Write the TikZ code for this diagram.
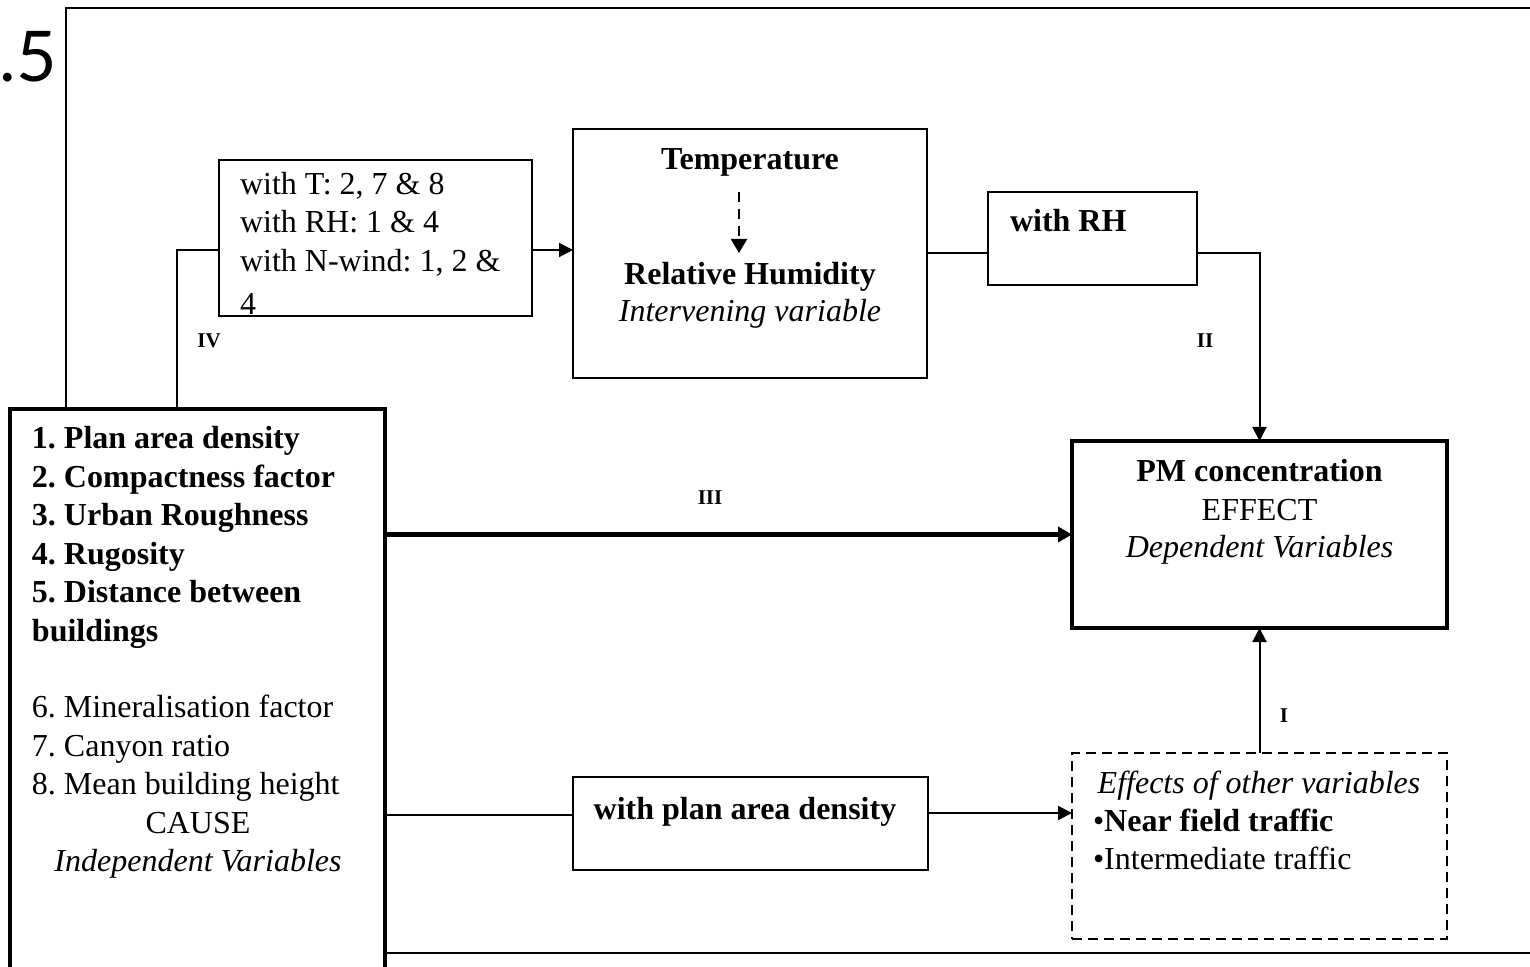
\documentclass[tikz,border=0pt]{standalone}
\usepackage{fontspec}
\setmainfont{Liberation Serif}
\newfontfamily\dotfont{Lato}
\usetikzlibrary{arrows.meta}
\frenchspacing
\begin{document}
\begin{tikzpicture}[x=0.5pt,y=-0.5pt,
  every node/.style={inner sep=0pt, outer sep=0pt},
  txt/.style={font=\fontsize{16}{19.2}\selectfont, anchor=base west},
  ctxt/.style={font=\fontsize{16}{19.2}\selectfont, anchor=base},
  btxt/.style={font=\fontsize{16}{19.2}\selectfont\bfseries},
  itxt/.style={font=\fontsize{16}{19.2}\selectfont\itshape},
  lbl/.style={font=\fontsize{10.5}{12}\selectfont\bfseries, anchor=base},
  box/.style={draw, line width=1.2pt, rectangle},
  thickbox/.style={draw, line width=1.8pt, rectangle},
  dbox/.style={draw, line width=1pt, rectangle, dash pattern=on 5pt off 3pt},
  conn/.style={line width=1pt},
  arr/.style={conn, -{Triangle[length=7pt,width=7pt]}},
]
\useasboundingbox (0,0) rectangle (1530,967);

% outer frame
\coordinate (f1) at (66,409);
\coordinate (f2) at (66,8);
\coordinate (f3) at (1545,8);
\coordinate (f4) at (384,953);
\coordinate (f5) at (1545,953);
\draw[line width=1.4pt] (f1) -- (f2) -- (f3);
\draw[line width=1.4pt] (f4) -- (f5);
\node[font=\dotfont\fontsize{35}{40}\selectfont, anchor=base east] (pg) at (57,82) {.5};

% boxes
\node[thickbox, fill=white, minimum width=187.5pt, minimum height=290.5pt] (cause) at (197.5,699.5) {};
\node[box, minimum width=156.5pt, minimum height=78pt] (withT) at (375.5,238) {};
\node[box, minimum width=177pt, minimum height=124.5pt] (temp) at (750,253.5) {};
\node[box, minimum width=104.5pt, minimum height=46.5pt] (withRH) at (1092.5,238.5) {};
\node[thickbox, minimum width=187.5pt, minimum height=93.5pt] (pm) at (1259.5,534.5) {};
\node[box, minimum width=177.5pt, minimum height=46.5pt] (plan) at (750.5,823.5) {};
\node[dbox, minimum width=187.5pt, minimum height=93pt] (other) at (1259.5,846) {};

% connectors
\draw[conn] ([xshift=83.5pt]cause.north west) |- ([yshift=-6pt]withT.west);
\draw[arr] ([yshift=-6pt]withT.east) -- ([yshift=-6pt]withT.east -| temp.west);
\draw[conn] (temp.east) -- (temp.east -| withRH.west);
\draw[arr] (temp.east -| withRH.east) -| (pm.north);
\draw[line width=2.5pt, -{Triangle[length=7pt,width=7.5pt]}] (cause.east |- pm.west) -- (pm.west);
\draw[conn] ([yshift=4.25pt]plan.west -| cause.east) -- ([yshift=4.25pt]plan.west);
\draw[arr] ([yshift=5.25pt]plan.east) -- ([yshift=5.25pt]plan.east -| other.west);
\draw[arr] (other.north) -- (pm.south);

% dashed arrow inside temperature box
\coordinate (da1) at (739,192);
\coordinate (da2) at (739,253);
\draw[line width=1.1pt, dash pattern=on 5pt off 3.5pt, -{Triangle[length=7pt,width=8pt]}] (da1) -- (da2);

% texts: with T box
\node[txt] (t1) at (240,195) {with T: 2, 7 \& 8};
\node[txt] (t2) at (240,233) {with RH: 1 \& 4};
\node[txt] (t3) at (240,272) {with N-wind: 1, 2 \&};
\node[txt] (t4) at (240,315) {4};

% temperature box
\node[ctxt, btxt] (tt) at (750,170) {Temperature};
\node[ctxt, btxt] (rh) at (750,285) {Relative Humidity};
\node[ctxt, itxt] (iv) at (750,322) {Intervening variable};

% with RH
\node[txt, btxt] (wrh) at (1010,232) {with RH};

% PM box
\node[ctxt, btxt] (pm1) at (1259.5,482) {PM concentration};
\node[ctxt] (pm2) at (1259.5,520) {EFFECT};
\node[ctxt, itxt] (pm3) at (1259.5,557) {Dependent Variables};

% plan box
\node[ctxt, btxt] (pl) at (745,819) {with plan area density};

% other effects box
\node[ctxt, itxt] (o1) at (1259,793) {Effects of other variables};
\node[txt] (o2) at (1093,831) {\textbullet\textbf{Near field traffic}};
\node[txt] (o3) at (1093,869) {\textbullet Intermediate traffic};

% cause box
\node[txt, btxt] (c1) at (32,449) {1. Plan area density};
\node[txt, btxt] (c2) at (32,487.4) {2. Compactness factor};
\node[txt, btxt] (c3) at (32,525.8) {3. Urban Roughness};
\node[txt, btxt] (c4) at (32,564.2) {4. Rugosity};
\node[txt, btxt] (c5) at (32,602.6) {5. Distance between};
\node[txt, btxt] (c6) at (32,641) {buildings};
\node[txt] (c7) at (32,717.8) {6. Mineralisation factor};
\node[txt] (c8) at (32,756.2) {7. Canyon ratio};
\node[txt] (c9) at (32,794.6) {8. Mean building height};
\node[ctxt] (c10) at (198,833) {CAUSE};
\node[ctxt, itxt] (c11) at (198,871.4) {Independent Variables};

% path labels
\node[lbl] (lIV) at (209,348) {IV};
\node[lbl] (lII) at (1205,348) {II};
\node[lbl] (lIII) at (710,504) {III};
\node[lbl] (lI) at (1284,722) {I};
\end{tikzpicture}
\end{document}
